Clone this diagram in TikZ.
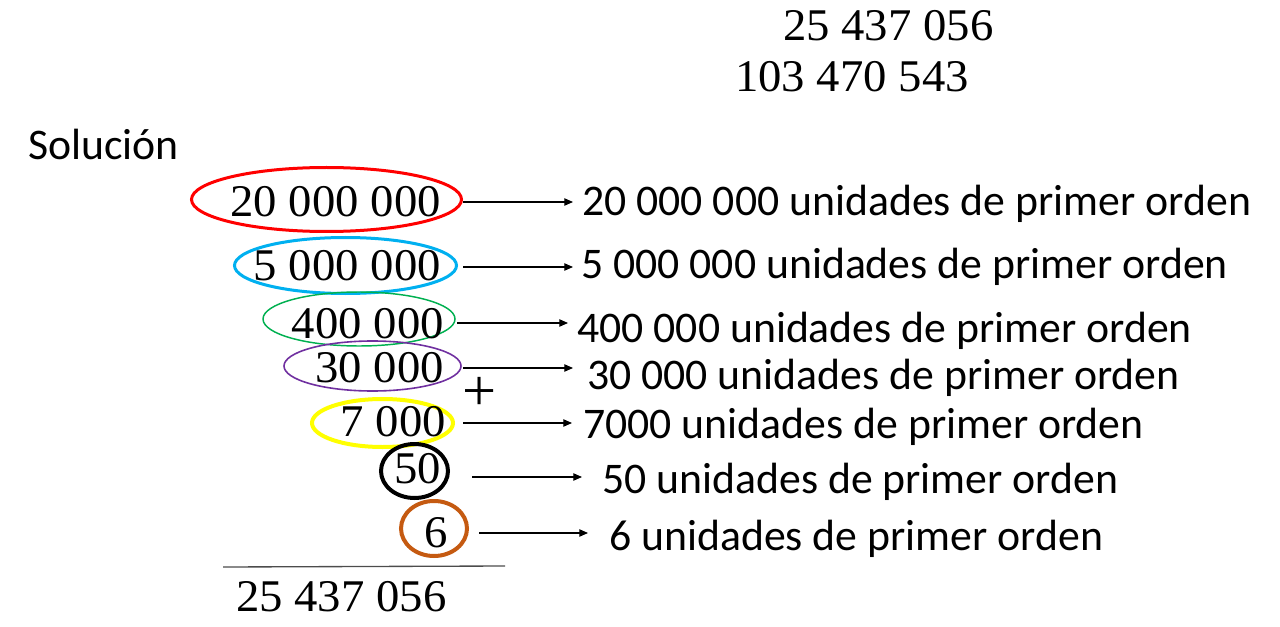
\documentclass[tikz,border=0pt]{standalone}
\usepackage{fontspec}
\newfontfamily\numfont[FakeStretch=1.03]{Liberation Serif}
\newfontfamily\labfont{Carlito}
\usetikzlibrary{shapes.geometric}
\usetikzlibrary{arrows.meta}
\definecolor{ringred}{RGB}{255,0,0}
\definecolor{ringblue}{RGB}{0,176,240}
\definecolor{ringgreen}{RGB}{0,176,80}
\definecolor{ringpurple}{RGB}{112,48,160}
\definecolor{ringyellow}{RGB}{255,255,0}
\definecolor{ringorange}{RGB}{197,90,17}

\begin{document}
\begin{tikzpicture}[x=0.75pt, y=-0.75pt, every node/.style={inner sep=0pt},
  num/.style={font=\numfont\fontsize{34}{40}\selectfont, anchor=base east},
  lab/.style={font=\labfont\fontsize{32.8}{38}\selectfont, anchor=base west},
  ring/.style={shape=ellipse, draw},
  arr/.style={-{Triangle[length=6.5pt, width=5.5pt]}, line width=0.9pt}]
\useasboundingbox (0,0) rectangle (1280,627);

\node [num, anchor=base west] (top1) at (783,41) {25 437 056};
\node [num, anchor=base west] (top2) at (735,92) {103 470 543};
\node [lab] (sol) at (28,160) {Solución};

\node [ring, draw=ringred, line width=2.25pt, minimum width=202.5pt, minimum height=48pt] (e1) at (326.5,199.5) {};
\node [ring, draw=ringblue, line width=2.25pt, minimum width=166.5pt, minimum height=42pt] (e2) at (345.5,265.5) {};
\node [ring, draw=ringgreen, line width=1.1pt, minimum width=144pt, minimum height=40.5pt] (e3) at (359,319) {};
\node [ring, draw=ringpurple, line width=1.2pt, minimum width=132.75pt, minimum height=37.5pt] (e4) at (372.5,366) {};
\node [ring, draw=ringyellow, line width=3pt, minimum width=105.75pt, minimum height=36pt] (e5) at (382.5,423) {};
\node [ring, draw=black, line width=3pt, minimum width=50.25pt, minimum height=40.5pt] (e6) at (414.5,471) {};
\node [ring, draw=ringorange, line width=3pt, minimum width=49.5pt, minimum height=41.25pt] (e7) at (434,528.5) {};

\node [num] (n1) at (441,217) {20 000 000};
\node [num] (n2) at (441,280) {5 000 000};
\node [num] (n3) at (444,338) {400 000};
\node [num] (n4) at (444,382) {30 000};
\node [num] (n5) at (446,436) {7 000};
\node [num] (n6) at (441,483) {50};
\node [num] (n7) at (448,547) {6};
\node [num, anchor=center, font=\numfont\fontsize{44}{48}\selectfont] (plus) at (480,394) {+};

\node [lab] (l1) at (582,216) {20 000 000 unidades de primer orden};
\node [lab] (l2) at (581,278) {5 000 000 unidades de primer orden};
\node [lab] (l3) at (577,342) {400 000 unidades de primer orden};
\node [lab] (l4) at (587,389) {30 000 unidades de primer orden};
\node [lab] (l5) at (583,438) {7000 unidades de primer orden};
\node [lab] (l6) at (602,493) {50 unidades de primer orden};
\node [lab] (l7) at (609,550) {6 unidades de primer orden};

\coordinate (a1) at (463,202);
\coordinate (a2) at (463,267);
\coordinate (a3) at (457,323);
\coordinate (a4) at (463,368);
\coordinate (a5) at (463,423);
\coordinate (a6) at (472,477);
\coordinate (a7) at (479,533);
\draw [arr, shorten >=6.75pt] (a1) -- (a1 -| l1.west);
\draw [arr, shorten >=6pt] (a2) -- (a2 -| l2.west);
\draw [arr, shorten >=6.75pt] (a3) -- (a3 -| l3.west);
\draw [arr, shorten >=10.5pt] (a4) -- (a4 -| l4.west);
\draw [arr, shorten >=8.25pt] (a5) -- (a5 -| l5.west);
\draw [arr, shorten >=15pt] (a6) -- (a6 -| l6.west);
\draw [arr, shorten >=15.75pt] (a7) -- (a7 -| l7.west);

\draw [black!70, line width=1pt] (223,567) -- (505,566);
\node [num, anchor=base west] (total) at (236,611) {25 437 056};
\end{tikzpicture}
\end{document}
